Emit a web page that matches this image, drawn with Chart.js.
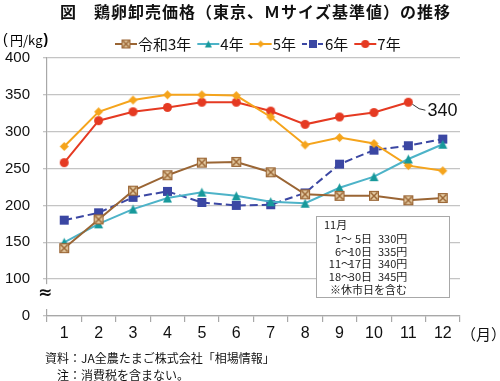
<!DOCTYPE html>
<html><head><meta charset="utf-8">
<script src="https://cdn.jsdelivr.net/npm/chart.js@4.4.1/dist/chart.umd.min.js"></script>
<style>html,body{margin:0;padding:0;background:#fff;}#wrap{width:500px;height:381px;position:relative;}</style>
</head><body><div id="wrap"><canvas id="c" width="500" height="381"></canvas></div>
<script>
// ---- data ----
const months = ['1','2','3','4','5','6','7','8','9','10','11','12'];
const seriesNames = ['令和3年','4年','5年','6年','7年'];
const r3 = [142,181,220,241,258,259,245,215,213,213,207,210];
const r4 = [150,175,195,210,218,213,205,203,224,239,263,283];
const r5 = [280,327,343,350,350,349,320,282,292,284,254,247];
const r6 = [180,190,211,219,204,200,201,217,256,275,281,290];
const r7 = [258,315,327,333,340,340,328,310,320,326,340,null];
const yMinShown = 50;           // axis floor (broken axis, labelled 0)
const yMax = 400;
const yStep = 50;
const floorLabel = '0';
const calloutValue = '340';
const noteTitle = '11月';
const noteFrom = ['1～','6～','11～','18～'];
const noteTo = ['5日','10日','17日','30日'];
const notePrice = ['330円','335円','340円','345円'];
const noteFoot = '※休市日を含む';
const titleText = '図　鶏卵卸売価格（東京、Ｍサイズ基準値）の推移';
const yUnitParts = ['(', '円/kg', ')'];
const xUnit = '（月）';
const source1 = '資料：JA全農たまご株式会社「相場情報」';
const source2 = '注：消費税を含まない。';

const JP = '"Noto Sans CJK JP", "Noto Sans", sans-serif';
const LAT = '"Liberation Sans", Arial, sans-serif';

const colors = {
  brown:'#9a6534', brownFill:'#e8d0a8', tealLine:'#4db3c8', teal:'#17999b',
  orange:'#f5a41c', blue:'#3b47a3', red:'#e53a22'
};

function marker(type, s){
  const c = document.createElement('canvas');
  const pad = 1; c.width = s + pad*2; c.height = s + pad*2;
  const g = c.getContext('2d');
  const o = pad, m = o + s/2;
  if(type==='xbox'){
    g.fillStyle = colors.brownFill; g.fillRect(o,o,s,s);
    g.strokeStyle = colors.brown; g.lineWidth = 1.2; g.strokeRect(o+0.6,o+0.6,s-1.2,s-1.2);
    g.lineWidth = 1.5; g.beginPath();
    g.moveTo(o+1.5,o+1.5); g.lineTo(o+s-1.5,o+s-1.5);
    g.moveTo(o+s-1.5,o+1.5); g.lineTo(o+1.5,o+s-1.5); g.stroke();
  } else if(type==='tri'){
    g.fillStyle = colors.teal; g.beginPath();
    g.moveTo(m,o); g.lineTo(o+s,o+s); g.lineTo(o,o+s); g.closePath(); g.fill();
  } else if(type==='dia'){
    g.fillStyle = colors.orange; g.beginPath();
    g.moveTo(m,o); g.lineTo(o+s,m); g.lineTo(m,o+s); g.lineTo(o,m); g.closePath(); g.fill();
  } else if(type==='sq'){
    g.fillStyle = colors.blue; g.fillRect(o,o,s,s);
  } else {
    g.fillStyle = colors.red; g.beginPath(); g.arc(m,m,s/2,0,Math.PI*2); g.fill();
  }
  return c;
}

const dsDefs = [
  {data:r3, line:colors.brown, mk:marker('xbox',10), lg:marker('xbox',9), dash:[]},
  {data:r4, line:colors.tealLine, mk:marker('tri',9), lg:marker('tri',7), dash:[]},
  {data:r5, line:colors.orange, mk:marker('dia',9), lg:marker('dia',7), dash:[]},
  {data:r6, line:colors.blue, mk:marker('sq',9), lg:marker('sq',8), dash:[8,4]},
  {data:r7, line:colors.red, mk:marker('dot',9), lg:marker('dot',8), dash:[]},
];

const datasets = dsDefs.map((d,i)=>({
  label: seriesNames[i], data: d.data, borderColor: d.line, backgroundColor: d.line,
  borderWidth: 2, borderDash: d.dash, pointStyle: d.mk, pointRadius: 5, tension: 0,
  spanGaps: false
}));

const decor = {
  id:'decor',
  afterDraw(chart){
    const ctx = chart.ctx, ca = chart.chartArea;
    const ys = chart.scales.y;
    ctx.save();
    // broken axis
    const yA = ys.getPixelForValue(100), yB = ys.getPixelForValue(yMinShown);
    ctx.fillStyle = '#fff';
    ctx.fillRect(ca.left-3, yA+5, 6, (yB-yA)-12);
    ctx.fillStyle = '#111';
    ctx.font = 'bold 17px "DejaVu Sans", sans-serif';
    ctx.textAlign = 'center'; ctx.textBaseline = 'middle';
    ctx.fillText('≈', ca.left-2, (yA+yB)/2 - 4);

    // title
    ctx.fillStyle = '#111';
    ctx.font = 'bold 16px ' + JP;
    ctx.textAlign = 'left'; ctx.textBaseline = 'middle';
    ctx.letterSpacing = '1px';
    ctx.fillText(titleText, 60, 12);
    ctx.letterSpacing = '0px';

    // y unit (drawn in parts)
    ctx.fillStyle = '#000';
    ctx.font = '14px ' + LAT;
    ctx.fillText(yUnitParts[0], 3, 40);
    ctx.font = '13px ' + JP;
    ctx.fillText(yUnitParts[1], 10, 40);
    const w1 = ctx.measureText(yUnitParts[1]).width;
    ctx.font = 'bold 14px ' + LAT;
    ctx.fillText(yUnitParts[2], 10 + w1 + 1, 40);

    // legend
    let x = 115; const ly = 44;
    ctx.font = '15px ' + JP;
    chart.data.datasets.forEach((ds,i)=>{
      ctx.strokeStyle = ds.borderColor; ctx.lineWidth = 2;
      ctx.setLineDash(i===3 ? [5,3] : []);
      ctx.beginPath(); ctx.moveTo(x, ly); ctx.lineTo(x+22, ly); ctx.stroke();
      ctx.setLineDash([]);
      const im = dsDefs[i].lg;
      ctx.drawImage(im, x+11-im.width/2, ly-im.height/2);
      ctx.fillStyle = '#111';
      ctx.fillText(ds.label, x+23, ly);
      x += 23 + ctx.measureText(ds.label).width + 6;
    });

    // x unit
    ctx.font = '15px ' + JP;
    ctx.fillText(xUnit, 461, 334);

    // sources
    ctx.font = '12px ' + JP;
    ctx.fillText(source1, 45, 358);
    ctx.fillText(source2, 57, 375);

    // note box
    const bx = 316, by = 216, bw = 133, bh = 81;
    ctx.fillStyle = '#fff'; ctx.fillRect(bx, by, bw, bh);
    ctx.strokeStyle = '#a8a8a8'; ctx.lineWidth = 1; ctx.strokeRect(bx+0.5, by+0.5, bw, bh);
    ctx.fillStyle = '#222';
    ctx.font = '11px ' + JP;
    ctx.textAlign = 'left';
    ctx.fillText(noteTitle, 324, 225);
    for(let k=0;k<noteFrom.length;k++){
      const yy = 239 + k*12.6;
      ctx.textAlign = 'right';
      ctx.fillText(noteFrom[k], 352, yy);
      ctx.fillText(noteTo[k], 372, yy);
      ctx.textAlign = 'left';
      ctx.fillText(notePrice[k], 378, yy);
    }
    ctx.fillText(noteFoot, 330, 290);

    // callout
    const meta = chart.getDatasetMeta(4);
    const idx = r7.length - 1 - [...r7].reverse().findIndex(v=>v!==null);
    const pt = meta.data[idx];
    ctx.strokeStyle = '#333'; ctx.lineWidth = 1;
    ctx.beginPath(); ctx.moveTo(pt.x+4, pt.y+2);
    ctx.quadraticCurveTo(pt.x+11, pt.y+8, pt.x+17, pt.y+8); ctx.stroke();
    ctx.fillStyle = '#111';
    ctx.font = '18px ' + LAT;
    ctx.textAlign = 'left'; ctx.textBaseline = 'middle';
    ctx.fillText(calloutValue, pt.x+19, pt.y+9);
    ctx.restore();
  }
};

new Chart(document.getElementById('c'), {
  type:'line',
  data:{labels: months, datasets},
  options:{
    responsive:false, animation:false, devicePixelRatio:1,
    layout:{padding:{left:0, right:40, top:58, bottom:0}},
    plugins:{legend:{display:false}, tooltip:{enabled:false}, title:{display:false}},
    scales:{
      x:{
        type:'category', offset:true,
        grid:{offset:true, drawOnChartArea:false, drawTicks:true, tickLength:6, color:'#a8a8a8', lineWidth:1.2},
        border:{display:true, color:'#a8a8a8', width:1.2},
        ticks:{font:{size:16, family:LAT}, color:'#111', padding:2, maxRotation:0, autoSkip:false},
        afterFit(s){ s.height = 65; }
      },
      y:{
        min:yMinShown, max:yMax,
        ticks:{stepSize:yStep, font:{size:15, family:LAT}, color:'#111', padding:13,
          callback:(v)=> v===yMinShown ? floorLabel : String(v)},
        grid:{color:'#c4c4c4', lineWidth:1.3, tickLength:4, drawTicks:true},
        border:{display:true, color:'#a8a8a8', width:1.2},
        afterFit(s){ s.width = 47; }
      }
    }
  },
  plugins:[decor]
});
</script></body></html>
